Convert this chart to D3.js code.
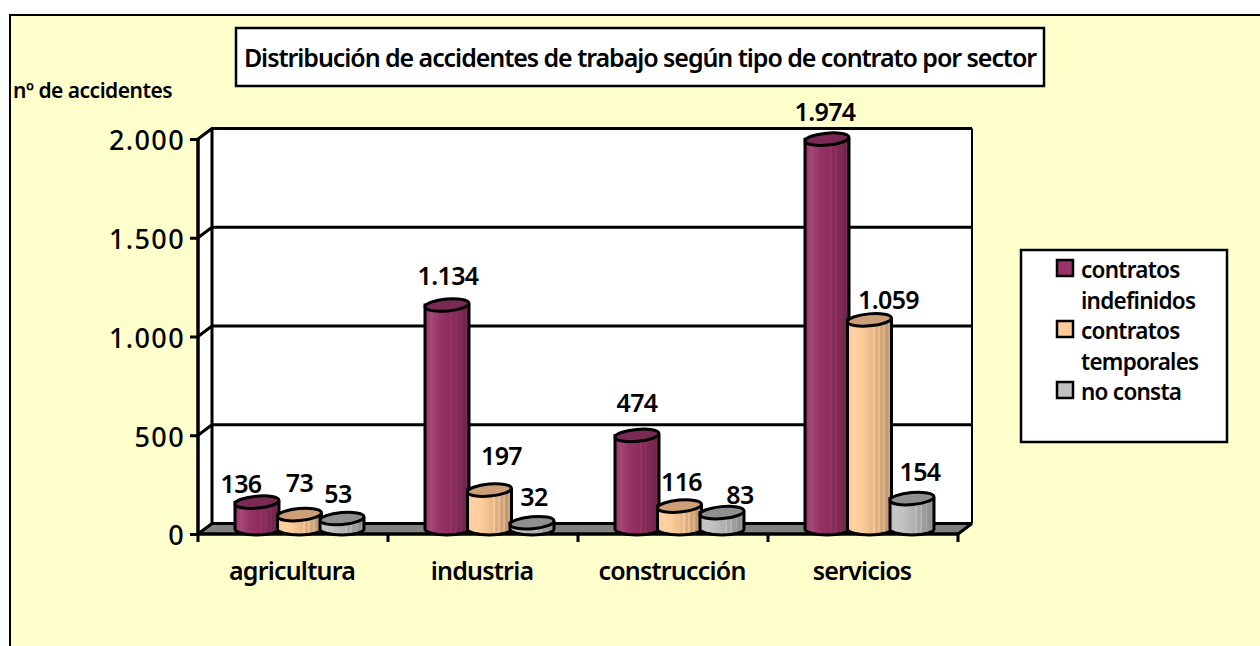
<!DOCTYPE html>
<html><head><meta charset="utf-8">
<script src="https://cdn.jsdelivr.net/npm/d3@7/dist/d3.min.js"></script>
<style>html,body{margin:0;padding:0;background:#fff}svg{display:block}text{font-family:"Noto Sans",sans-serif;font-weight:600;fill:#000}</style>
</head><body><div id="c"></div>
<script>
const categories = ["agricultura","industria","construcción","servicios"];
const seriesNames = ["contratos indefinidos","contratos temporales","no consta"];
const indefinidos = [136,1134,474,1974];
const temporales = [73,197,116,1059];
const noConsta = [53,32,83,154];
const yTicks = [0,500,1000,1500,2000];
const seriesValues = [indefinidos,temporales,noConsta];
const colors = ["#993366","#FFCC99","#C0C0C0"];
const tops = ["#7a2a52","#cc9f78","#8f8f8f"];

const W=1260,H=646;
const svg=d3.select("#c").append("svg").attr("width",W).attr("height",H);
const defs=svg.append("defs");
// layout
const fx0=198,fx1=958,fy0=534,fy1=139,dx=14,dy=10.5;
const x=d3.scaleBand().domain(categories).range([fx0,fx1]);
const groupW=127.5;
const xS=d3.scaleBand().domain(d3.range(3)).range([(x.bandwidth()-groupW)/2,(x.bandwidth()+groupW)/2]);
const y=d3.scaleLinear().domain([0,2000]).range([fy0,fy1]);
const fmt=d3.formatLocale({decimal:",",thousands:".",grouping:[3],currency:["",""]}).format(",d");

// stripe gradients
function shade(c,k){const r=d3.rgb(c);
  const f=v=>k>1?v+(255-v)*(k-1)*1.1:v*k;
  return d3.rgb(f(r.r),f(r.g),f(r.b)).formatHex();}
colors.forEach((c,i)=>{
  const g=defs.append("linearGradient").attr("id","g"+i).attr("x1",0).attr("x2",1).attr("y1",0).attr("y2",0);
  const prof=[[0,.98],[.12,1.1],[.3,1.0],[.5,.92],[.75,.82],[1,.7]];
  const interp=t=>{for(let j=1;j<prof.length;j++){if(t<=prof[j][0]){const a=prof[j-1],b=prof[j];return a[1]+(b[1]-a[1])*(t-a[0])/(b[0]-a[0]);}}return .7;};
  const n=26;
  for(let s=0;s<n;s++){
    const t0=s/n,t1=(s+1)/n,k=interp(t0)*(s>12&&s%3===0?1.1:1);
    g.append("stop").attr("offset",t0).attr("stop-color",shade(c,k));
    g.append("stop").attr("offset",t1).attr("stop-color",shade(c,k));
  }
});

// frame
svg.append("rect").attr("x",10).attr("y",15).attr("width",W+20).attr("height",H+20)
  .attr("fill","#FFFFCC").attr("stroke","#000").attr("stroke-width",2);

// walls
svg.append("rect").attr("x",fx0+dx).attr("y",fy1-dy).attr("width",fx1-fx0).attr("height",fy0-fy1).attr("fill","#fff");
svg.append("polygon").attr("points",[[fx0,fy0],[fx0+dx,fy0-dy],[fx0+dx,fy1-dy],[fx0,fy1]].join(" ")).attr("fill","#fff");
svg.append("polygon").attr("points",[[fx0,fy0],[fx1,fy0],[fx1+dx,fy0-dy],[fx0+dx,fy0-dy]].join(" ")).attr("fill","#808080");

// grid
const grid=svg.append("g").attr("fill","none").attr("stroke","#000").attr("stroke-width",3);
yTicks.forEach(t=>{
  grid.append("path").attr("d",d3.line()([[fx0,y(t)],[fx0+dx,y(t)-dy],[fx1+dx,y(t)-dy]]));
});
grid.append("path").attr("d",d3.line()([[fx0+dx,fy0-dy],[fx0+dx,fy1-dy]]));
grid.append("path").attr("d",d3.line()([[fx1+dx,fy0-dy],[fx1+dx,fy1-dy]])).attr("stroke-width",2);
grid.append("path").attr("d",d3.line()([[fx1,fy0],[fx1+dx,fy0-dy]]));

// axes
const ay=svg.append("g").attr("transform",`translate(${fx0},0)`)
  .call(d3.axisLeft(y).tickValues(yTicks).tickFormat(fmt).tickSize(8).tickPadding(5));
ay.select(".domain").attr("stroke-width",3.5).attr("d",`M0,${fy1}V${fy0}`);
ay.selectAll(".tick line").attr("stroke-width",3);
ay.selectAll("text").style("font-size","27px").style("font-weight",500).style("letter-spacing","1.4px").attr("dy","0.4em");

const ax=svg.append("g").attr("transform",`translate(0,${fy0})`)
  .call(d3.axisBottom(x).tickSize(0).tickPadding(28));
ax.select(".domain").attr("stroke-width",3.5).attr("d",`M${fx0},0H${fx1}`);
ax.selectAll("text").style("font-size","25px").style("letter-spacing","-0.8px").attr("dx",-1);
ax.selectAll(".edge").data(d3.range(categories.length+1)).enter().append("line").attr("class","edge")
  .attr("x1",i=>fx0+i*x.step()).attr("x2",i=>fx0+i*x.step()).attr("y1",0).attr("y2",8)
  .attr("stroke","#000").attr("stroke-width",3);

// cylinders
const rx=22,ry=6,zx=6.5,zy=5;
const bars=svg.append("g");
categories.forEach((cat,ci)=>{
  seriesValues.forEach((vals,si)=>{
    const v=vals[ci];
    const cx=x(cat)+xS(si)+xS.bandwidth()/2+zx;
    const yb=y(0)-zy,yt=y(v)-zy;
    const g=bars.append("g").attr("stroke","#000").attr("stroke-width",3);
    g.append("path").attr("fill",`url(#g${si})`)
      .attr("d",`M${cx-rx},${yt}V${yb}A${rx},${ry} 0 0 0 ${cx+rx},${yb}V${yt}Z`);
    g.append("ellipse").attr("cx",cx).attr("cy",yt).attr("rx",rx).attr("ry",ry)
      .attr("transform",`rotate(-5 ${cx} ${yt})`).attr("fill",tops[si]);
  });
});
const labels=svg.append("g");
const labelNudge=[[-16,0,-4],[1,12,2],[0,2,18],[-2,19,8]];
const labelRise=[[9,23,16],[20,25,17],[23,15,9],[18,11,18]];
categories.forEach((cat,ci)=>{
  seriesValues.forEach((vals,si)=>{
    const v=vals[ci];
    const cx=x(cat)+xS(si)+xS.bandwidth()/2+zx;
    labels.append("text").attr("x",cx+labelNudge[ci][si]).attr("y",y(v)-zy-labelRise[ci][si])
      .attr("text-anchor","middle").style("font-size","25px").style("letter-spacing","-0.6px").text(fmt(v));
  });
});

// title
svg.append("rect").attr("x",236).attr("y",28).attr("width",808).attr("height",58).attr("fill","#fff").attr("stroke","#000").attr("stroke-width",2.5);
svg.append("text").attr("x",640).attr("y",67).attr("text-anchor","middle").style("font-size","25px").style("letter-spacing","-1.06px")
  .text("Distribución de accidentes de trabajo según tipo de contrato por sector");
svg.append("text").attr("x",13).attr("y",98).style("font-size","21px").style("letter-spacing","-0.5px").text("nº de accidentes");

// legend
svg.append("rect").attr("x",1021).attr("y",250).attr("width",206).attr("height",192).attr("fill","#fff").attr("stroke","#000").attr("stroke-width",2.5);
const legendLines=[["contratos","indefinidos"],["contratos","temporales"],["no consta"]];
let ly=278;
legendLines.forEach((lines,i)=>{
  svg.append("rect").attr("x",1057).attr("y",ly-18).attr("width",16).attr("height",16).attr("fill",colors[i]).attr("stroke","#000").attr("stroke-width",2.5);
  lines.forEach(t=>{
    svg.append("text").attr("x",1081).attr("y",ly).style("font-size","22.5px").style("letter-spacing","-0.75px").text(t);
    ly+=30.5;
  });
});
</script></body></html>
